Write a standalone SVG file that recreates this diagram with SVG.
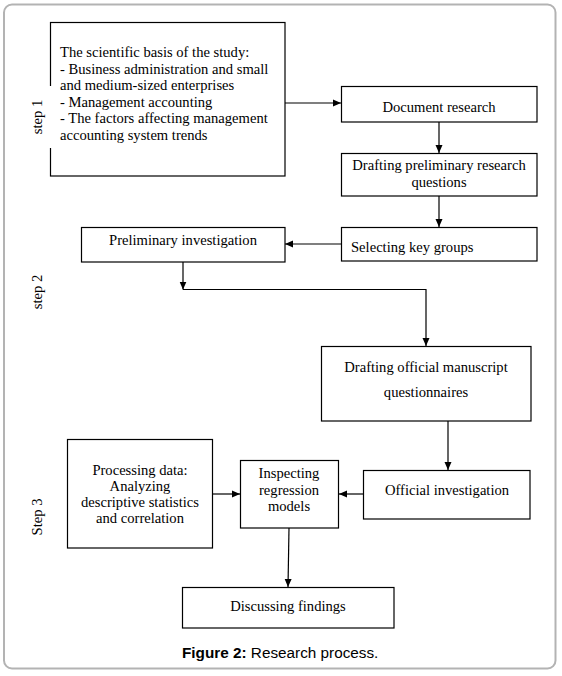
<svg xmlns="http://www.w3.org/2000/svg" width="562" height="676" viewBox="0 0 562 676">
<style>
.box{fill:#fff;stroke:#000;stroke-width:1.2}
.t{font-family:"Liberation Serif","Times New Roman",serif;font-size:14.6px;fill:#000}
.c{text-anchor:middle}
.ln{fill:none;stroke:#000;stroke-width:1.2}
.cap{font-family:"Liberation Sans",Arial,sans-serif;font-size:15.3px;fill:#000}
</style>
<defs>
<marker id="ah" viewBox="0 0 8 8" refX="8" refY="4" markerWidth="8" markerHeight="8" markerUnits="userSpaceOnUse" orient="auto">
<path d="M0,0.5 L8,4 L0,7.5 Z" fill="#000"/>
</marker>
</defs>
<rect x="4" y="4.5" width="551.5" height="664" rx="8" fill="#fff" stroke="#b3b3b3" stroke-width="2"/>

<g id="n1">
<rect class="box" x="50.5" y="22.5" width="234.5" height="153.5"/>
<text class="t" x="60" y="57">The scientific basis of the study:</text>
<text class="t" x="60" y="73.5">- Business administration and small</text>
<text class="t" x="60" y="90">and medium-sized enterprises</text>
<text class="t" x="60" y="106.5">- Management accounting</text>
<text class="t" x="60" y="123">- The factors affecting management</text>
<text class="t" x="60" y="139.5">accounting system trends</text>
</g>
<g id="step1">
<rect x="30" y="86" width="22" height="62" fill="#fff"/>
<text class="t c" transform="translate(42,117) rotate(-90)">step 1</text>
</g>
<g id="step2">
<text class="t c" transform="translate(42,292) rotate(-90)">step 2</text>
</g>
<g id="step3">
<text class="t c" transform="translate(42,517) rotate(-90)">Step 3</text>
</g>

<g id="n2">
<rect class="box" x="341.5" y="86.5" width="195.5" height="35.5"/>
<text class="t c" x="439" y="112">Document research</text>
</g>
<g id="n3">
<rect class="box" x="341.5" y="153.5" width="195.5" height="42.5"/>
<text class="t c" x="439" y="170">Drafting preliminary research</text>
<text class="t c" x="439" y="187">questions</text>
</g>
<g id="n4">
<rect class="box" x="341.5" y="227.5" width="195.5" height="33.5"/>
<text class="t" x="351" y="252">Selecting key groups</text>
</g>
<g id="n5">
<rect class="box" x="81.5" y="227.5" width="203.5" height="34.5"/>
<text class="t c" x="183" y="245">Preliminary investigation</text>
</g>
<g id="n6">
<rect class="box" x="321.5" y="346.5" width="209.5" height="74.5"/>
<text class="t c" x="426" y="372">Drafting official manuscript</text>
<text class="t c" x="426" y="397">questionnaires</text>
</g>
<g id="n7">
<rect class="box" x="363.5" y="470.5" width="166.5" height="48.5"/>
<text class="t c" x="447" y="495">Official investigation</text>
</g>
<g id="n8">
<rect class="box" x="240.5" y="460.5" width="98" height="67.5"/>
<text class="t c" x="289" y="478">Inspecting</text>
<text class="t c" x="289" y="495">regression</text>
<text class="t c" x="289" y="511">models</text>
</g>
<g id="n9">
<rect class="box" x="67.5" y="439.5" width="145" height="108.5"/>
<text class="t c" x="140" y="475">Processing data:</text>
<text class="t c" x="140" y="490.5">Analyzing</text>
<text class="t c" x="140" y="507">descriptive statistics</text>
<text class="t c" x="140" y="522.5">and correlation</text>
</g>
<g id="n10">
<rect class="box" x="182.5" y="587.5" width="211.5" height="40.5"/>
<text class="t c" x="288" y="611">Discussing findings</text>
</g>

<g id="connectors">
<line class="ln" x1="285" y1="103" x2="341" y2="103" marker-end="url(#ah)"/>
<line class="ln" x1="439" y1="122" x2="439" y2="153" marker-end="url(#ah)"/>
<line class="ln" x1="439" y1="196" x2="439" y2="227" marker-end="url(#ah)"/>
<line class="ln" x1="341" y1="244" x2="285" y2="244" marker-end="url(#ah)"/>
<line class="ln" x1="183" y1="262" x2="183" y2="289.5" marker-end="url(#ah)"/>
<polyline class="ln" points="183,289.5 426,289.5 426,346" marker-end="url(#ah)"/>
<line class="ln" x1="448" y1="421" x2="448" y2="470" marker-end="url(#ah)"/>
<line class="ln" x1="363" y1="494" x2="339" y2="494" marker-end="url(#ah)"/>
<line class="ln" x1="212" y1="494" x2="240" y2="494" marker-end="url(#ah)"/>
<line class="ln" x1="289" y1="528" x2="288" y2="587" marker-end="url(#ah)"/>
</g>

<text class="cap" x="182" y="658"><tspan font-weight="bold">Figure 2:</tspan> Research process.</text>
</svg>
